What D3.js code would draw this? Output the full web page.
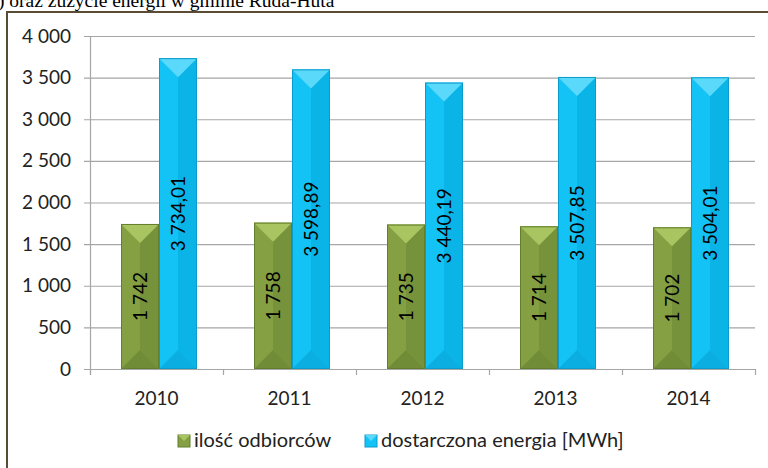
<!DOCTYPE html>
<html>
<head>
<meta charset="utf-8">
<script src="https://cdn.jsdelivr.net/npm/d3@7"></script>
<style>
  body { margin: 0; background: #fff; }
  svg { display: block; }
  .tick_lbl { font-family: Lato, "Open Sans", sans-serif; font-size: 19px; fill: #222; }
  .leg_lbl { font-family: Lato, "Open Sans", sans-serif; font-size: 20px; fill: #222; }
  .bar_lbl { font-family: Lato, "Open Sans", sans-serif; font-size: 19px; fill: #000; }
</style>
</head>
<body>
<div id="chart"></div>
<script>
// data
var years = ['2010', '2011', '2012', '2013', '2014'];
var series_names = ['ilość odbiorców', 'dostarczona energia [MWh]'];
var odbiorcy = [1742, 1758, 1735, 1714, 1702];
var energia = [3734.01, 3598.89, 3440.19, 3507.85, 3504.01];
var y_ticks = [0, 500, 1000, 1500, 2000, 2500, 3000, 3500, 4000];

var W = 768, H = 468;
var svg = d3.select('#chart').append('svg').attr('width', W).attr('height', H);

// cut-off caption above the frame
svg.append('text').text(') oraz zużycie energii w gminie Ruda-Huta')
    .attr('x', -2).attr('y', 7)
    .style('font-family', '"Liberation Serif", "Times New Roman", serif')
    .style('font-size', '19.5px').style('fill', '#000');

// chart frame
svg.append('rect').attr('x', 7).attr('y', 12).attr('width', 800).attr('height', 500)
    .attr('fill', 'none').attr('stroke', '#5a4b34').attr('stroke-width', 2);

var left = 90, right = 755, top_ = 36, bottom = 369;
var x_scale = d3.scaleBand().domain(years).range([left, right]);
var y_scale = d3.scaleLinear().domain([0, 4000]).range([bottom, top_]);
var sub = d3.scaleBand().domain(series_names).range([31, 107]);
var sep = function (s) { return s.replace(/,/g, ' '); };

// grid
var grid = svg.append('g');
y_ticks.forEach(function (t) {
    grid.append('line').attr('x1', left - 6).attr('x2', right)
        .attr('y1', y_scale(t) + 0.5).attr('y2', y_scale(t) + 0.5)
        .attr('stroke', '#a6a6a6').attr('stroke-width', 1.2);
    svg.append('text').attr('class', 'tick_lbl').text(sep(d3.format(',')(t)))
        .attr('x', 71).attr('y', y_scale(t) + 6.5).attr('text-anchor', 'end');
});
grid.append('line').attr('x1', left + 0.5).attr('x2', left + 0.5).attr('y1', top_).attr('y2', bottom + 6)
    .attr('stroke', '#a6a6a6').attr('stroke-width', 1.2);
years.concat(['end']).forEach(function (y, i) {
    var xx = left + i * x_scale.bandwidth();
    grid.append('line').attr('x1', xx + 0.5).attr('x2', xx + 0.5).attr('y1', bottom).attr('y2', bottom + 6)
        .attr('stroke', '#a6a6a6').attr('stroke-width', 1.2);
});
years.forEach(function (y) {
    svg.append('text').attr('class', 'tick_lbl').text(y)
        .attr('x', x_scale(y) + x_scale.bandwidth() / 2).attr('y', 405).attr('text-anchor', 'middle');
});

// bevelled bars
var palettes = [
    { main: '#84a042', top: '#a8c562', side: '#76923a', bot: '#718c36', edge: '#637e2c' },
    { main: '#14c3f5', top: '#5bd9fb', side: '#0ab4e6', bot: '#0aaee0', edge: '#0a9ccc' }
];
function draw_bar(x0, w, v, pal, label) {
    var y0 = y_scale(v), y1 = y_scale(0), xc = x0 + w / 2, d = Math.min(w / 2, (y1 - y0) / 2);
    var g = svg.append('g');
    g.append('rect').attr('x', x0).attr('y', y0).attr('width', w).attr('height', y1 - y0).attr('fill', pal.main);
    g.append('polygon').attr('points', [[xc, y0 + d], [x0 + w, y0], [x0 + w, y1], [xc, y1 - d]].join(' ')).attr('fill', pal.side);
    g.append('polygon').attr('points', [[x0, y1], [x0 + w, y1], [xc, y1 - d]].join(' ')).attr('fill', pal.bot);
    g.append('polygon').attr('points', [[x0, y0], [x0 + w, y0], [xc, y0 + d]].join(' ')).attr('fill', pal.top);
    g.append('rect').attr('x', x0 + 0.5).attr('y', y0 + 0.5).attr('width', w - 1).attr('height', y1 - y0 - 1)
        .attr('fill', 'none').attr('stroke', pal.edge).attr('stroke-width', 1);
    g.append('text').attr('class', 'bar_lbl').text(label)
        .attr('transform', 'translate(' + (xc + 7) + ',' + ((y0 + y1) / 2) + ') rotate(-90)')
        .attr('text-anchor', 'middle');
}
var fmt_int = function (v) { return sep(d3.format(',')(v)); };
var fmt_dec = function (v) { return sep(d3.format(',.2f')(v)).replace('.', ','); };
years.forEach(function (y, i) {
    draw_bar(x_scale(y) + sub(series_names[0]), sub.bandwidth(), odbiorcy[i], palettes[0], fmt_int(odbiorcy[i]));
    draw_bar(x_scale(y) + sub(series_names[1]), sub.bandwidth(), energia[i], palettes[1], fmt_dec(energia[i]));
});

// legend
var leg = svg.append('g');
var lx = [178, 365];
series_names.forEach(function (n, i) {
    var pal = palettes[i];
    var g = leg.append('g').attr('transform', 'translate(' + lx[i] + ',435)');
    g.append('rect').attr('width', 12).attr('height', 12).attr('fill', pal.main).attr('stroke', pal.edge);
    g.append('polygon').attr('points', '0,0 12,0 6,6').attr('fill', pal.top);
    g.append('text').attr('class', 'leg_lbl').text(n).attr('x', 16).attr('y', 12);
});
</script>
</body>
</html>
